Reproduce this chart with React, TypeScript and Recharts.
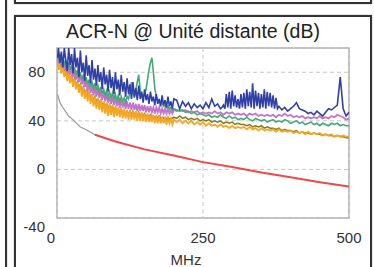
import { LineChart, Line, XAxis, YAxis, CartesianGrid, ReferenceArea } from "recharts";

// frequency points (MHz)
const freqLow = [
  1, 2.5, 5, 7.5, 10, 12.5, 15, 17.5, 20, 22.5,
  25, 27.5, 30, 32.5, 35, 37.5, 40, 42.5, 45, 47.5,
  50, 52.5, 55, 57.5, 60, 62.5, 65, 67.5, 70, 72.5,
  75, 77.5, 80, 82.5, 85, 87.5, 90, 92.5, 95, 97.5,
  100, 102.5, 105, 107.5, 110, 112.5, 115, 117.5, 120, 122.5,
  125, 127.5, 130, 132.5, 135, 137.5, 140, 142.5, 145, 147.5,
  150, 152.5, 155, 157.5, 160, 162.5, 165, 167.5, 170, 172.5,
  175, 177.5, 180, 182.5, 185, 187.5, 190, 192.5, 195, 197.5,
  200,
];
const freqHigh = [
  205, 210, 215, 220, 225, 230, 235, 240, 245, 250,
  255, 260, 265, 270, 275, 280, 285, 290, 295, 300,
  305, 310, 315, 320, 325, 330, 335, 340, 345, 350,
  355, 360, 365, 370, 375, 380, 385, 390, 395, 400,
  405, 410, 415, 420, 425, 430, 435, 440, 445, 450,
  455, 460, 465, 470, 475, 480, 485, 490, 495, 500,
];
// the blue trace is sampled finer where it is spiky
const blueFreqHigh = [
  205, 210, 215, 220, 225, 230, 235, 240, 245, 250, 255, 260, 265, 270, 275, 280,
  282.5, 285, 287.5, 290, 292.5, 295, 297.5, 300, 302.5, 305,
  307.5, 310, 312.5, 315, 317.5, 320, 322.5, 325, 327.5, 330,
  332.5, 335, 337.5, 340, 342.5, 345, 347.5, 350, 352.5, 355,
  357.5, 360, 362.5, 365, 367.5, 370, 372.5, 375, 377.5, 380,
  385, 390, 395, 400, 405, 410, 415, 420, 425, 430, 435, 440,
  445, 450, 455, 460, 465, 470, 475, 480, 485, 490, 495, 500,
];

const blueLow = [
  92, 100, 88, 97, 84, 100, 90, 81, 100, 86,
  95, 79, 100, 84, 92, 76, 98, 80, 88, 73,
  94, 77, 86, 71, 90, 74, 83, 69, 86, 72,
  80, 66, 84, 70, 78, 64, 82, 67, 76, 62,
  80, 66, 74, 61, 78, 64, 72, 60, 75, 62,
  70, 58, 72, 60, 67, 57, 69, 58, 64, 55,
  66, 57, 62, 54, 64, 56, 60, 53, 62, 54,
  58, 52, 61, 53, 57, 51, 60, 52, 56, 50,
  58,
];
const blueHigh = [
  57, 50, 56, 52, 55, 50, 54, 51, 53, 50, 55, 51, 58, 52, 54, 50,
  51, 53, 50, 62, 51, 64, 50, 65, 52, 61,
  51, 58, 50, 62, 51, 63, 50, 66, 52, 64,
  51, 71, 50, 65, 52, 63, 50, 62, 51, 66,
  50, 64, 52, 63, 51, 61, 50, 59, 50, 52,
  49, 51, 48, 50, 52, 55, 50, 49, 48, 46, 47, 45,
  48, 46, 44, 47, 50, 49, 51, 53, 76, 50, 44, 47,
];

const purpleLow = [
  96, 88, 93, 85, 91, 83, 88, 80, 86, 78,
  84, 76, 81, 74, 79, 72, 77, 70, 75, 68,
  73, 64, 71, 63, 69, 61, 68, 60, 66, 59,
  65, 57, 64, 56, 62, 55, 61, 54, 60, 53,
  59, 52, 58, 51, 57, 51, 56, 50, 56, 50,
  55, 49, 55, 49, 54, 48, 54, 48, 53, 48,
  53, 47, 52, 47, 52, 47, 51, 46, 51, 47,
  51, 46, 50, 46, 50, 46, 50, 46, 49, 46,
  49,
];
const purpleHigh = [
  48, 49, 48, 49, 47, 48, 47, 48, 46, 47,
  46, 47, 46, 48, 46, 47, 45, 47, 46, 47,
  45, 46, 45, 46, 44, 46, 45, 46, 44, 45,
  44, 45, 44, 45, 43, 45, 44, 46, 44, 45,
  43, 44, 43, 44, 42, 43, 42, 43, 42, 44,
  42, 43, 42, 44, 43, 45, 44, 43, 41, 42,
];

const greenLow = [
  94, 90, 95, 88, 92, 86, 90, 84, 88, 82,
  86, 80, 84, 78, 82, 76, 80, 74, 78, 72,
  76, 70, 74, 68, 72, 67, 71, 65, 69, 64,
  68, 62, 66, 61, 65, 60, 64, 59, 63, 58,
  62, 57, 61, 56, 60, 56, 59, 55, 60, 58,
  64, 72, 63, 59, 66, 72, 78, 65, 60, 61,
  62, 66, 74, 82, 88, 92, 80, 67, 60, 57,
  57, 54, 55, 52, 53, 51, 52, 50, 51, 49,
  50,
];
const greenHigh = [
  49, 48, 49, 47, 48, 46, 47, 45, 46, 45,
  44, 45, 43, 44, 43, 45, 43, 42, 44, 42,
  43, 41, 42, 41, 43, 41, 40, 42, 41, 40,
  41, 39, 40, 41, 39, 40, 39, 41, 40, 38,
  39, 40, 38, 39, 37, 38, 39, 37, 38, 36,
  38, 37, 36, 38, 37, 38, 36, 37, 36, 36,
];

const orangeLow = [
  90, 82, 87, 79, 85, 76, 82, 73, 80, 71,
  77, 68, 75, 66, 72, 63, 70, 60, 68, 58,
  66, 56, 64, 54, 62, 52, 60, 50, 58, 49,
  57, 47, 56, 46, 55, 44, 54, 45, 53, 43,
  52, 44, 51, 43, 51, 42, 50, 42, 49, 41,
  49, 41, 48, 41, 48, 40, 47, 40, 47, 40,
  46, 39, 46, 39, 45, 39, 45, 38, 44, 38,
  44, 38, 43, 38, 43, 37, 42, 38, 42, 37,
  41,
];
const orangeHigh = [
  39, 41, 38, 40, 38, 40, 37, 39, 37, 39,
  36, 38, 36, 37, 35, 37, 35, 36, 34, 36,
  34, 35, 34, 35, 33, 35, 33, 34, 32, 34,
  32, 33, 32, 33, 31, 33, 31, 32, 31, 32,
  30, 31, 30, 31, 29, 31, 29, 30, 29, 30,
  28, 29, 28, 29, 27, 28, 27, 28, 27, 27,
];

const oliveLow = [
  90, 86, 88, 83, 85, 80, 83, 77, 80, 75,
  77, 72, 75, 69, 72, 67, 70, 65, 68, 63,
  65, 61, 63, 59, 61, 57, 60, 56, 58, 54,
  57, 53, 55, 52, 54, 50, 53, 49, 52, 48,
  51, 47, 50, 47, 49, 46, 48, 46, 48, 45,
  48, 45, 48, 45, 47, 44, 47, 44, 46, 44,
  46, 43, 45, 43, 45, 43, 44, 42, 44, 42,
  44, 42, 43, 42, 43, 41, 43, 41, 42, 42,
  43,
];
const oliveHigh = [
  42, 44, 42, 43, 41, 42, 41, 42, 40, 41,
  40, 41, 39, 40, 39, 40, 38, 39, 38, 39,
  37, 38, 37, 37, 36, 37, 35, 36, 35, 36,
  34, 35, 34, 34, 33, 34, 32, 33, 32, 32,
  31, 32, 30, 31, 30, 30, 29, 30, 29, 29,
  28, 29, 28, 28, 27, 28, 27, 27, 26, 26,
];

// limit curve
const limitLowFreq = [1, 5, 10, 20, 27, 40, 51, 65];
const limitLowDb = [62, 55, 51, 44, 41, 35, 32.5, 28.5];
const limitFreq = [65, 100, 150, 200, 250, 300, 350, 400, 450, 500];
const limitDb = [28.5, 23, 16.5, 11.5, 6, 2, -2.5, -6.5, -10.5, -14];

const xTicks = [0, 250, 500];
const yTicks = [-40, 0, 40, 80];

const freq = [...freqLow, ...freqHigh];
const purple = [...purpleLow, ...purpleHigh];
const green = [...greenLow, ...greenHigh];
const orange = [...orangeLow, ...orangeHigh];
const olive = [...oliveLow, ...oliveHigh];
const rows = freq.map((f, i) => ({
  f,
  purple: purple[i],
  green: green[i],
  orange: orange[i],
  olive: olive[i],
}));
const blueFreq = [...freqLow, ...blueFreqHigh];
const blue = [...blueLow, ...blueHigh];
const blueRows = blueFreq.map((f, i) => ({ f, blue: blue[i] }));
const limitLow = limitLowFreq.map((f, i) => ({ f, lim: limitLowDb[i] }));
const limit = limitFreq.map((f, i) => ({ f, lim: limitDb[i] }));

const FONT = "'Liberation Sans', Arial, sans-serif";

const YTick = (props: any) => {
  const { x, y, payload } = props;
  const dy = payload.value === -40 ? 9 : 0;
  return (
    <text x={x} y={y + dy + 5} textAnchor="end" fontSize={15} fontFamily={FONT} fill="#333">
      {payload.value}
    </text>
  );
};

const XTick = (props: any) => {
  const { x, y, payload } = props;
  const dx = payload.value === 0 ? -6 : 0;
  return (
    <text x={x + dx} y={y + 11} textAnchor="middle" fontSize={15} fontFamily={FONT} fill="#333">
      {payload.value}
    </text>
  );
};

const MHzLabel = (props: any) => {
  const vb = props.viewBox;
  return (
    <text
      x={vb.x + vb.width / 2 - 17}
      y={vb.y + vb.height + 7}
      textAnchor="middle"
      fontSize={15}
      fontFamily={FONT}
      fill="#333"
    >
      MHz
    </text>
  );
};

const panel = (style: React.CSSProperties): React.CSSProperties => ({
  position: "absolute",
  border: "2px solid #333",
  boxShadow: "0 0 1px #777",
  boxSizing: "border-box",
  ...style,
});

export default function App() {
  return (
    <div
      style={{
        position: "absolute",
        left: 0,
        top: 0,
        width: 374,
        height: 267,
        overflow: "hidden",
        background: "#fff",
        fontFamily: FONT,
      }}
    >
      <div style={panel({ left: 14, top: -60, width: 358, height: 64 })} />
      <div style={panel({ left: -60, top: -60, width: 67, height: 400 })} />
      <div style={panel({ left: 14, top: 15, width: 358, height: 300 })} />
      <div
        style={{
          position: "absolute",
          left: 14,
          top: 21,
          width: 358,
          textAlign: "center",
          fontSize: 19.5,
          lineHeight: "20px",
          color: "#222",
        }}
      >
        ACR-N @ Unité distante (dB)
      </div>
      <div style={{ position: "absolute", left: 0, top: 0 }}>
        <LineChart
          width={374}
          height={267}
          data={rows}
          margin={{ top: 48, right: 25, bottom: 9, left: 17 }}
        >
          <ReferenceArea x1={0} x2={500} y1={-40} y2={100} fill="none" stroke="#b5b5b5" strokeWidth={1.5} />
          <CartesianGrid stroke="#c8c8c8" strokeDasharray="4 3" />
          <XAxis
            dataKey="f"
            type="number"
            domain={[0, 500]}
            ticks={xTicks}
            allowDataOverflow
            axisLine={false}
            tickLine={false}
            tickSize={0}
            tickMargin={14}
            height={40}
            tick={XTick}
            label={{ content: MHzLabel }}
          />
          <YAxis
            type="number"
            domain={[-40, 100]}
            ticks={yTicks}
            allowDataOverflow
            axisLine={false}
            tickLine={false}
            tickSize={0}
            tickMargin={12}
            width={40}
            tick={YTick}
          />
          <Line dataKey="olive" stroke="#8a7a1a" strokeWidth={1.5} dot={false} isAnimationActive={false} />
          <Line dataKey="orange" stroke="#f5a623" strokeWidth={1.8} dot={false} isAnimationActive={false} />
          <Line dataKey="purple" stroke="#c474c8" strokeWidth={1.8} dot={false} isAnimationActive={false} />
          <Line dataKey="green" stroke="#46a87a" strokeWidth={1.6} dot={false} isAnimationActive={false} />
          <Line data={blueRows} dataKey="blue" stroke="#3040a4" strokeWidth={1.6} dot={false} isAnimationActive={false} />
          <Line data={limitLow} dataKey="lim" stroke="#9a9a9a" strokeWidth={1.2} dot={false} isAnimationActive={false} />
          <Line data={limit} dataKey="lim" stroke="#f04848" strokeWidth={2} dot={false} isAnimationActive={false} />
        </LineChart>
      </div>
    </div>
  );
}
